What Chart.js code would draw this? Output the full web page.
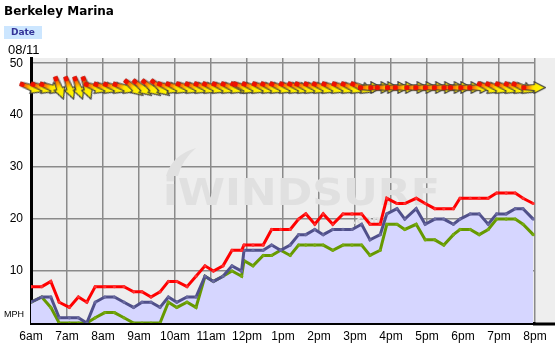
<!DOCTYPE html>
<html>
<head>
<meta charset="utf-8">
<script src="https://cdn.jsdelivr.net/npm/chart.js@4/dist/chart.umd.min.js"></script>
<style>
  body { margin: 0; background: #fff; }
  #wrap { position: relative; width: 557px; height: 343px; overflow: hidden; }
  #chart { position: absolute; left: 0; top: 0; }
  .lbl { position: absolute; white-space: nowrap; }
  #title { left: 4px; top: 4px; font: bold 12px "DejaVu Sans", Verdana, sans-serif; color: #000; }
  #date { left: 4px; top: 26px; width: 38px; height: 13px; background: #cce6ff; color: #333399;
          font: bold 9px "DejaVu Sans", Verdana, sans-serif; text-align: center; line-height: 13px; }
  #day { left: 8px; top: 42px; font: 13px "Liberation Sans", Arial, sans-serif; color: #000; }
  #unit { left: 4px; top: 309px; font: 9px "Liberation Sans", Arial, sans-serif; color: #000; }
</style>
</head>
<body>
<div id="wrap">
  <canvas id="chart" width="557" height="343"></canvas>
  <div class="lbl" id="title">Berkeley Marina</div>
  <div class="lbl" id="date">Date</div>
  <div class="lbl" id="day">08/11</div>
  <div class="lbl" id="unit">MPH</div>
</div>
<script>
// sample times, minutes after 6:00am
const times = [0, 18, 33, 47, 64, 79, 93, 107, 123, 139, 155, 171, 185, 200, 215,
  229, 243, 260, 275, 290, 304, 320, 335, 351, 355, 370, 387, 401, 416, 432,
  446, 458, 473, 487, 503, 520, 535, 551, 565, 582, 593, 610, 623, 642, 657,
  673, 688, 704, 715, 732, 747, 762, 776, 792, 807, 820, 837];

// gust (mph)
const gust = [7, 7, 8, 4, 3, 5, 4, 7, 7, 7, 7, 6, 6, 5, 6,
  8, 8, 7, 9, 11, 10, 11, 14, 14, 15, 15, 15, 18, 18, 18,
  20, 21, 19, 21, 19, 21, 21, 21, 19, 19, 24, 23, 23, 24, 23,
  22, 22, 22, 24, 24, 24, 24, 25, 25, 25, 24, 23];

// average (mph)
const avg = [4, 5, 5, 1, 1, 1, 0, 4, 5, 5, 4, 3, 4, 4, 3,
  5, 4, 5, 5, 9, 8, 9, 11, 10, 14, 14, 14, 15, 14, 15,
  17, 17, 18, 17, 18, 18, 18, 19, 16, 17, 21, 22, 20, 22, 19,
  20, 20, 19, 20, 21, 21, 19, 21, 21, 22, 22, 20];

// lull (mph)
const lull = [4, 5, 3, 0, 0, 0, 0, 1, 2, 2, 1, 0, 0, 0, 0,
  4, 3, 4, 3, 9, 8, 9, 10, 9, 12, 11, 13, 13, 14, 13,
  15, 15, 15, 15, 14, 15, 15, 15, 13, 14, 19, 19, 18, 19, 16,
  16, 15, 17, 18, 18, 17, 18, 20, 20, 20, 19, 17];

// arrow tilt in degrees (0 = blowing toward east, positive = turning south)
const dirTilt = [20, 20, 20, 70, 70, 70, 70, 20, 20, 20, 20, 40, 40, 40, 40,
  22, 22, 22, 22, 22, 22, 22, 22, 22, 22, 22, 22, 22, 22, 22,
  22, 22, 22, 22, 22, 22, 22, 22, 0, 0, 0, 0, 0, 0, 0,
  0, 0, 0, 0, 0, 0, 22, 22, 22, 22, 22, 0];

const hourLabels = ['6am', '7am', '8am', '9am', '10am', '11am', '12pm', '1pm',
  '2pm', '3pm', '4pm', '5pm', '6pm', '7pm', '8pm'];
const yTicks = [0, 10, 20, 30, 40, 50];
const arrowLevel = 45.3;

function makeArrow() {
  const c = document.createElement('canvas');
  c.width = 26; c.height = 13;
  const g = c.getContext('2d');
  const grad = g.createLinearGradient(1, 0, 25, 0);
  grad.addColorStop(0, '#ff1000');
  grad.addColorStop(0.28, '#ff8000');
  grad.addColorStop(0.5, '#ffe600');
  grad.addColorStop(1, '#ffff00');
  g.beginPath();
  g.moveTo(2, 4.5);
  g.lineTo(14, 3.5);
  g.lineTo(14, 0.8);
  g.lineTo(25, 6.5);
  g.lineTo(14, 12.2);
  g.lineTo(14, 9.5);
  g.lineTo(2, 8.5);
  g.closePath();
  g.fillStyle = grad;
  g.fill();
  g.strokeStyle = '#3c3c3c';
  g.lineWidth = 1.2;
  g.stroke();
  g.beginPath();
  g.arc(3.5, 6.5, 2.6, 0, Math.PI * 2);
  g.fillStyle = '#f01000';
  g.fill();
  return c;
}
const arrowImg = makeArrow();

const backdrop = {
  id: 'backdrop',
  beforeDraw(chart) {
    const { ctx, chartArea: a } = chart;
    ctx.save();
    ctx.fillStyle = '#eeeeee';
    ctx.fillRect(a.left, a.top, 555 - a.left, a.bottom - a.top);
    ctx.restore();
  },
  beforeDatasetsDraw(chart) {
    // faint site watermark
    const { ctx } = chart;
    ctx.save();
    ctx.fillStyle = '#e0e0e0';
    ctx.font = 'bold 37px "DejaVu Sans", sans-serif';
    const w = ctx.measureText('iWINDSURF').width;
    ctx.translate(163, 205);
    ctx.scale(277 / w, 1);
    ctx.fillText('iWINDSURF', 0, 0);
    ctx.restore();
    ctx.save();
    ctx.fillStyle = '#e0e0e0';
    ctx.font = 'bold 12px "DejaVu Sans", sans-serif';
    ctx.fillText('.com', 352, 224);
    ctx.beginPath();
    ctx.moveTo(166, 176);
    ctx.quadraticCurveTo(172, 155, 196, 148);
    ctx.quadraticCurveTo(182, 160, 178, 176);
    ctx.closePath();
    ctx.fill();
    ctx.restore();
  },
  afterDraw(chart) {
    const { ctx, chartArea: a } = chart;
    ctx.save();
    ctx.strokeStyle = '#000';
    ctx.lineWidth = 3;
    ctx.beginPath();
    ctx.moveTo(a.right - 2, a.bottom + 1);
    ctx.lineTo(555, a.bottom + 1);
    ctx.stroke();
    ctx.restore();
  }
};

const pts = arr => times.map((t, i) => ({ x: t, y: arr[i] }));

new Chart(document.getElementById('chart'), {
  type: 'line',
  data: {
    datasets: [
      {
        label: 'Direction',
        data: times.map(t => ({ x: t, y: arrowLevel })),
        showLine: false,
        pointStyle: arrowImg,
        pointRotation: dirTilt,
        pointRadius: 10,
        clip: false,
        order: 0
      },
      {
        label: 'Gust',
        data: pts(gust),
        borderColor: '#ff0000',
        backgroundColor: '#ff3030',
        borderWidth: 3,
        pointRadius: 1.6,
        pointBorderWidth: 0,
        order: 1
      },
      {
        label: 'Average',
        data: pts(avg),
        borderColor: '#50508a',
        backgroundColor: 'rgb(214,214,255)',
        pointBackgroundColor: '#6a6aa0',
        fill: 'origin',
        borderWidth: 3,
        pointRadius: 1.6,
        pointBorderWidth: 0,
        order: 2
      },
      {
        label: 'Lull',
        data: pts(lull),
        borderColor: '#669900',
        backgroundColor: '#77aa11',
        borderWidth: 3,
        pointRadius: 1.6,
        pointBorderWidth: 0,
        order: 3
      }
    ]
  },
  options: {
    responsive: false,
    devicePixelRatio: 1,
    animation: false,
    events: [],
    layout: { padding: { top: 58, right: 22, left: 0, bottom: 0 } },
    plugins: {
      legend: { display: false },
      tooltip: { enabled: false },
      filler: { drawTime: 'beforeDatasetsDraw' }
    },
    elements: { line: { tension: 0 } },
    scales: {
      x: {
        type: 'linear',
        min: 0,
        max: 840,
        afterFit: s => { s.height = 20; },
        afterBuildTicks: s => { s.ticks = hourLabels.map((_, i) => ({ value: i * 60 })); },
        ticks: {
          autoSkip: false,
          maxRotation: 0,
          padding: 6,
          color: '#000',
          font: { family: '"Liberation Sans", Arial, sans-serif', size: 12 },
          callback: v => hourLabels[Math.round(v / 60)]
        },
        grid: { color: '#8a8a8a', lineWidth: 1.5, drawTicks: false },
        border: { color: '#000', width: 3 }
      },
      y: {
        min: 0,
        max: 51,
        afterFit: s => { s.width = 31; },
        afterBuildTicks: s => { s.ticks = yTicks.map(v => ({ value: v })); },
        ticks: {
          padding: 8,
          color: '#000',
          font: { family: '"Liberation Sans", Arial, sans-serif', size: 12 },
          callback: v => (v === 0 ? '' : v)
        },
        grid: { color: '#8a8a8a', lineWidth: 1.5, drawTicks: false },
        border: { color: '#000', width: 3 }
      }
    }
  },
  plugins: [backdrop]
});
</script>
</body>
</html>
